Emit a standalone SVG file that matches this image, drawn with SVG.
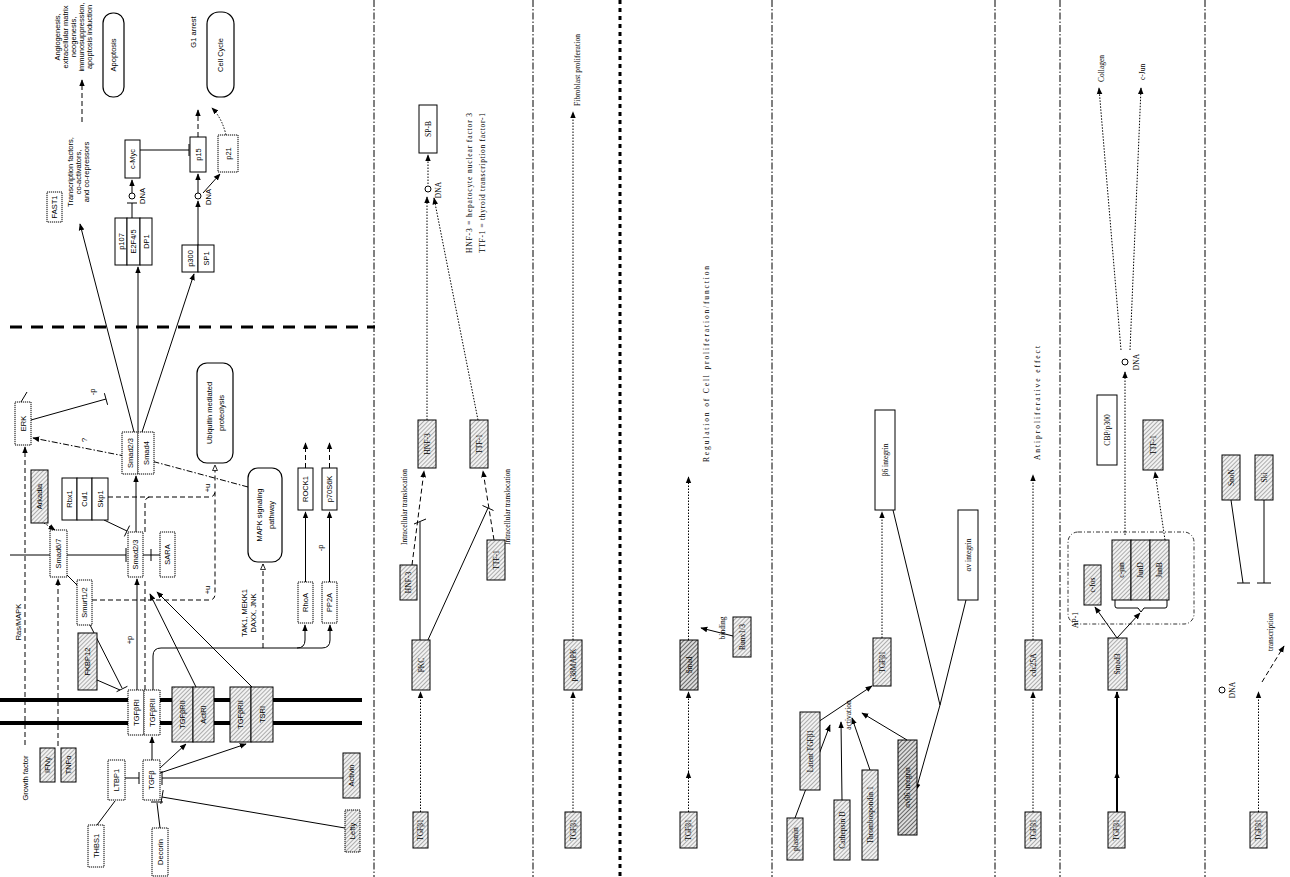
<svg xmlns="http://www.w3.org/2000/svg" width="1290" height="877" viewBox="0 0 1290 877">
<style>
text{font-family:"Liberation Sans",Arial,sans-serif;font-size:7.5px;fill:#000;text-anchor:middle;dominant-baseline:central}
.s{font-family:"Liberation Serif","Times New Roman",serif;font-size:7.5px}
.st{text-anchor:start}
.b{fill:#fff;stroke:#000;stroke-width:1}
.bd{fill:#fff;stroke:#000;stroke-width:1;stroke-dasharray:1.2 0.8}
.g{fill:url(#h);stroke:#000;stroke-width:1}
.gd{fill:url(#hd);stroke:#000;stroke-width:1}
.r{fill:#fff;stroke:#000;stroke-width:1.2}
.l{fill:none;stroke:#000;stroke-width:1}
.lt{fill:none;stroke:#000;stroke-width:2}
.dot{fill:none;stroke:#000;stroke-width:1;stroke-dasharray:1.5 1.5}
.dash{fill:none;stroke:#000;stroke-width:1;stroke-dasharray:5 3}
.dd{fill:none;stroke:#000;stroke-width:1;stroke-dasharray:6 2 1.5 2}
.sep{fill:none;stroke:#000;stroke-width:1;stroke-dasharray:7 2 1.5 2}
.mem{stroke:#000;stroke-width:4}
.nuc{stroke:#000;stroke-width:3;stroke-dasharray:12 9}
.ap{fill:none;stroke:#000;stroke-width:0.8;stroke-dasharray:4 2 1 2}
.sm{font-size:7px}
</style>
<defs>
<pattern id="h" width="3" height="3" patternUnits="userSpaceOnUse" patternTransform="rotate(45)"><rect width="3" height="3" fill="#f2f2f2"/><line x1="0.5" y1="0" x2="0.5" y2="3" stroke="#9a9a9a" stroke-width="0.8"/></pattern>
<pattern id="hd" width="3" height="3" patternUnits="userSpaceOnUse" patternTransform="rotate(45)"><rect width="3" height="3" fill="#dcdcdc"/><line x1="0.5" y1="0" x2="0.5" y2="3" stroke="#666" stroke-width="1"/></pattern>
<marker id="a" viewBox="0 0 10 10" refX="9" refY="5" markerWidth="7" markerHeight="7" markerUnits="userSpaceOnUse" orient="auto"><path d="M0,1 L10,5 L0,9 z" fill="#000"/></marker>
<marker id="o" viewBox="0 0 10 10" refX="9" refY="5" markerWidth="7" markerHeight="7" markerUnits="userSpaceOnUse" orient="auto"><path d="M1,1.5 L9,5 L1,8.5 z" fill="#fff" stroke="#000" stroke-width="1.2"/></marker>
</defs>
<rect width="1290" height="877" fill="#fff"/>

<g id="separators">
<line class="sep" x1="374" y1="0" x2="374" y2="877"/>
<line class="sep" x1="533" y1="0" x2="533" y2="877"/>
<line x1="620" y1="0" x2="620" y2="877" stroke="#000" stroke-width="3" stroke-dasharray="4 4"/>
<line class="sep" x1="772" y1="0" x2="772" y2="877"/>
<line class="sep" x1="995" y1="0" x2="995" y2="877"/>
<line class="sep" x1="1060" y1="0" x2="1060" y2="877"/>
<line class="sep" x1="1205" y1="0" x2="1205" y2="877"/>
</g>

<g id="membranes">
<line class="mem" x1="0" y1="700" x2="362" y2="700"/>
<line class="mem" x1="0" y1="723" x2="362" y2="723"/>
<line class="nuc" x1="10" y1="327" x2="375" y2="327"/>
</g>

<g id="connectors">
<path class="dash" d="M82,122 V80" marker-end="url(#a)"/>
<path class="l" d="M134,432 L80,224" marker-end="url(#a)"/>
<path class="l" d="M138,432 V267" marker-end="url(#a)"/>
<path class="l" d="M142,432 L194,274" marker-end="url(#a)"/>
<path class="l" d="M132,218 V203 M127,203 H137"/>
<path class="l" d="M132,193 V180" marker-end="url(#a)"/>
<path class="l" d="M140,150 H189 M189,144 V156"/>
<path class="l" d="M198,245 V201" marker-end="url(#a)"/>
<path class="l" d="M198,193 V174" marker-end="url(#a)"/>
<path class="l" d="M203,193 L220,174" marker-end="url(#a)"/>
<path class="dash" d="M198,137 V110" marker-end="url(#a)"/>
<path class="dot" d="M226,135 Q222,118 212,108" marker-end="url(#a)"/>
<path class="l" d="M31,420 L106,399 M104.4,393.2 L107.6,404.8"/>
<path class="l" d="M21,402 L27,392"/>
<path class="dash" d="M25,745 V447" marker-end="url(#a)"/>
<path class="dash" d="M58,746 V579" marker-end="url(#a)"/>
<path class="dot" d="M44,523 L55,530" marker-end="url(#a)"/>
<path class="l" d="M10,555 H50 M67,555 H126 M126,548 V562"/>
<path class="l" d="M67,575 L77,585"/>
<path class="l" d="M104,520 L127,531 M124.4,536.4 L129.6,525.6"/>
<path class="l" d="M90,625 L122,688 M97,680 L120,690 M116.6,691.7 L127.4,686.3"/>
<path class="l" d="M136,532 V476" marker-end="url(#a)"/>
<path class="l" d="M143,555 H160 M151,549 V561"/>
<path class="l" d="M137,690 V579" marker-end="url(#a)"/>
<path class="dash" d="M145,690 V579"/>
<path class="dash" d="M145,532 V503 Q145,497 151,497"/>
<path class="dash" d="M108,497 H209 Q215,497 215,491"/>
<path class="dash" d="M92,600 H209 Q215,600 215,594 V465" marker-end="url(#o)"/>
<path class="dd" d="M248,487 L155,462 L33,438" marker-end="url(#a)"/>
<path class="l" d="M153,690 V656 Q153,648 161,648 H322 Q330,648 330,640 V625" marker-end="url(#a)"/>
<path class="l" d="M297,648 Q305,648 305,640 V625" marker-end="url(#a)"/>
<path class="dash" d="M263,648 V564" marker-end="url(#o)"/>
<path class="l" d="M305.5,582 V512" marker-end="url(#a)"/>
<path class="l" d="M329.5,582 V512" marker-end="url(#a)"/>
<path class="dash" d="M305.5,468 V443" marker-end="url(#a)"/>
<path class="dash" d="M329.5,468 V443" marker-end="url(#a)"/>
<path class="l" d="M160,768 L186,744" marker-end="url(#a)"/>
<path class="l" d="M160,773 L246,744" marker-end="url(#a)"/>
<path class="l" d="M196,687 L150,594" marker-end="url(#a)"/>
<path class="l" d="M252,687 L157,592" marker-end="url(#a)"/>
<path class="l" d="M152,760 V737" marker-end="url(#a)"/>
<path class="l" d="M125,778 H139 M139,772 V784"/>
<path class="l" d="M97,825 L115,801"/>
<path class="l" d="M160,828 L157,803 M151,802 H163"/>
<path class="l" d="M343,778 H162 M162,771 V785"/>
<path class="l" d="M345,828 L162,797 M163.2,790.1 L160.8,803.9"/>
<path class="dot" d="M420.5,812 V692" marker-end="url(#a)"/>
<path class="dash" d="M412,565 L424,471" marker-end="url(#a)"/>
<path class="dash" d="M494,540 L483,471" marker-end="url(#a)"/>
<path class="l" d="M420,640 V522 M414,524 L426,519"/>
<path class="l" d="M427,642 L488,508 M482.5,505.5 L493.5,510.5"/>
<path class="dot" d="M427,420 V197" marker-end="url(#a)"/>
<path class="dot" d="M478,420 L434,198" marker-end="url(#a)"/>
<path class="dot" d="M428,184 V155" marker-end="url(#a)"/>
<path class="dot" d="M573,812 V692" marker-end="url(#a)"/>
<path class="dot" d="M573,640 V112" marker-end="url(#a)"/>
<path class="dot" d="M688.5,812 V772" marker-end="url(#a)" stroke-width="1.6"/>
<path class="dot" d="M688.5,772 V692" marker-end="url(#a)" stroke-width="1.6"/>
<path class="l" d="M741,638 L701,628" marker-end="url(#a)"/>
<path class="dot" d="M688.5,640 V477" marker-end="url(#a)"/>
<path class="l" d="M818,722 L872,686" marker-end="url(#a)"/>
<path class="l" d="M795,818 L830,725" marker-end="url(#a)"/>
<path class="l" d="M842,800 L841,722" marker-end="url(#a)"/>
<path class="l" d="M870,770 L852,718" marker-end="url(#a)"/>
<path class="l" d="M907,740 L862,713" marker-end="url(#a)"/>
<path class="dot" d="M882,638 V512" marker-end="url(#a)"/>
<path class="l" d="M893,510 L940,705 M966,600 L940,705"/>
<path class="l" d="M940,705 L916,790" marker-end="url(#a)"/>
<path class="dot" d="M1033,812 V692" marker-end="url(#a)"/>
<path class="dot" d="M1033,640 V475" marker-end="url(#a)"/>
<path class="lt" d="M1117,812 V772" marker-end="url(#a)"/>
<path class="lt" d="M1117,772 V692" marker-end="url(#a)"/>
<path class="l" d="M1117,638 L1095,607" marker-end="url(#a)"/>
<path class="l" d="M1117,638 L1140,613" marker-end="url(#a)"/>
<path class="l" d="M1115,600 V606 Q1115,608 1117,608 H1138 L1141,612 L1144,608 H1165 Q1167,608 1167,606 V600"/>
<path class="dot" d="M1125,535 V372" marker-end="url(#a)"/>
<path class="dot" d="M1165,540 L1155,472" marker-end="url(#a)"/>
<path class="dot" d="M1121,350 L1099,88" marker-end="url(#a)"/>
<path class="dot" d="M1130,350 L1141,88" marker-end="url(#a)"/>
<path class="dot" d="M1258.5,812 V692" marker-end="url(#a)"/>
<path class="dash" d="M1262,682 L1284,646" marker-end="url(#a)"/>
<path class="l" d="M1231,500 L1243,583 M1237,583 H1250"/>
<path class="l" d="M1264,500 V583 M1257,583 H1271"/>
</g>

<g id="labels">
<text transform="translate(92 392) rotate(-90)">-p</text>
<text transform="translate(84 440) rotate(-90)">?</text>
<text transform="translate(129 640) rotate(-90)">+p</text>
<text transform="translate(207 488) rotate(-90)">+u</text>
<text transform="translate(207 590) rotate(-90)">+u</text>
<text transform="translate(320 548) rotate(-90)">-p</text>
<text class="s" transform="translate(404 507) rotate(-90)" textLength="76" lengthAdjust="spacing">Intracellular translocation</text>
<text class="s" transform="translate(507 507) rotate(-90)" textLength="76" lengthAdjust="spacing">Intracellular translocation</text>
<text class="s" transform="translate(722 628) rotate(-90)">binding</text>
<text class="s" transform="translate(848 715) rotate(-90)">activation</text>
<text class="s" transform="translate(1270 632) rotate(-90)">transcription</text>
<text class="s" transform="translate(1075 620) rotate(-90)">AP-1</text>
</g>

<g id="n-angio" class="sm">
<text transform="translate(57 37) rotate(-90)">Angiogenesis,</text>
<text transform="translate(65 37) rotate(-90)">extracellular matrix</text>
<text transform="translate(73 37) rotate(-90)">neogenesis,</text>
<text transform="translate(81 37) rotate(-90)">immunosuppression,</text>
<text transform="translate(89 37) rotate(-90)">apoptosis induction</text>
</g>
<g id="n-apoptosis"><rect class="r" x="103" y="13" width="21" height="84" rx="10"/><text transform="translate(113.5 55) rotate(-90)">Apoptosis</text></g>
<g id="n-g1"><text transform="translate(193 32) rotate(-90)">G1 arrest</text></g>
<g id="n-cellcycle"><rect class="r" x="207" y="12" width="27" height="85" rx="12"/><text transform="translate(220.5 55) rotate(-90)">Cell Cycle</text></g>
<g id="n-fast1"><rect class="bd" x="47" y="192" width="15" height="30"/><text transform="translate(54.5 207) rotate(-90)">FAST1</text></g>
<g id="n-tf">
<text transform="translate(70 172) rotate(-90)">Transcription factors,</text>
<text transform="translate(78 172) rotate(-90)">co-activators,</text>
<text transform="translate(86 172) rotate(-90)">and co-repressors</text>
</g>
<g id="n-e2f">
<rect class="b" x="115" y="218" width="12" height="47"/><rect class="b" x="127" y="218" width="13" height="47"/><rect class="b" x="140" y="218" width="12" height="47"/>
<text transform="translate(121 241.5) rotate(-90)">p107</text><text transform="translate(133.5 241.5) rotate(-90)">E2F4/5</text><text transform="translate(146 241.5) rotate(-90)">DP1</text>
</g>
<g id="n-dna1"><circle cx="132" cy="196" r="3" fill="#fff" stroke="#000"/><text transform="translate(142 196) rotate(-90)">DNA</text></g>
<g id="n-cmyc"><rect class="b" x="125" y="140" width="15" height="38"/><text transform="translate(132.5 159) rotate(-90)">c-Myc</text></g>
<g id="n-p15"><rect class="b" x="190" y="137" width="16" height="35"/><text transform="translate(198 154.5) rotate(-90)">p15</text></g>
<g id="n-dna2"><circle cx="198" cy="196" r="3" fill="#fff" stroke="#000"/><text transform="translate(208 197) rotate(-90)">DNA</text></g>
<g id="n-p300">
<rect class="b" x="182" y="245" width="16" height="27"/><rect class="b" x="198" y="245" width="16" height="27"/>
<text transform="translate(190 258.5) rotate(-90)">p300</text><text transform="translate(206 258.5) rotate(-90)">SP1</text>
</g>
<g id="n-p21"><rect class="bd" x="218" y="135" width="20" height="37"/><text transform="translate(228 153.5) rotate(-90)">p21</text></g>
<g id="n-erk"><rect class="bd" x="15" y="402" width="16" height="43"/><text transform="translate(23 423.5) rotate(-90)">ERK</text></g>
<g id="n-rasmapk"><text transform="translate(18 622) rotate(-90)">Ras/MAPK</text></g>
<g id="n-growth"><text transform="translate(25 778) rotate(-90)">Growth factor</text></g>
<g id="n-ifng"><rect class="g" x="40" y="748" width="15" height="34"/><text transform="translate(47.5 765) rotate(-90)">IFNγ</text></g>
<g id="n-tnfa"><rect class="g" x="61" y="748" width="15" height="34"/><text transform="translate(68.5 765) rotate(-90)">TNFα</text></g>
<g id="n-smad67"><rect class="bd" x="50" y="530" width="17" height="47"/><text transform="translate(58.5 553.5) rotate(-90)">Smad6/7</text></g>
<g id="n-arkadia"><rect class="g" x="31" y="470" width="17" height="53"/><text transform="translate(39.5 496.5) rotate(-90)">Arkadia</text></g>
<g id="n-skp1">
<rect class="b" x="62" y="478" width="15" height="42"/><rect class="b" x="77" y="478" width="15" height="42"/><rect class="b" x="92" y="478" width="16" height="42"/>
<text transform="translate(69.5 499) rotate(-90)">Rbx1</text><text transform="translate(84.5 499) rotate(-90)">Cul1</text><text transform="translate(100 499) rotate(-90)">Skp1</text>
</g>
<g id="n-smad23"><rect class="bd" x="128" y="532" width="15" height="45"/><text transform="translate(135.5 554.5) rotate(-90)">Smad2/3</text></g>
<g id="n-sara"><rect class="bd" x="160" y="532" width="15" height="45"/><text transform="translate(167.5 554.5) rotate(-90)">SARA</text></g>
<g id="n-smurf"><rect class="bd" x="77" y="580" width="15" height="45"/><text transform="translate(84.5 602.5) rotate(-90)">Smurf1/2</text></g>
<g id="n-fkbp12"><rect class="g" x="78" y="633" width="19" height="57"/><text transform="translate(87.5 661.5) rotate(-90)">FKBP12</text></g>
<g id="n-receptor">
<rect class="bd" x="128" y="690" width="16" height="45"/><rect class="bd" x="144" y="690" width="16" height="45"/>
<text transform="translate(136 712.5) rotate(-90)">TGFβRI</text><text transform="translate(152 712.5) rotate(-90)">TGFβRII</text>
</g>
<g id="n-tgfb"><rect class="bd" x="143" y="760" width="17" height="40"/><text transform="translate(151.5 780) rotate(-90)">TGFβ</text></g>
<g id="n-ltbp1"><rect class="bd" x="108" y="760" width="17" height="40"/><text transform="translate(116.5 780) rotate(-90)">LTBP1</text></g>
<g id="n-thbs1"><rect class="bd" x="88" y="825" width="16" height="42"/><text transform="translate(96 846) rotate(-90)">THBS1</text></g>
<g id="n-decorin"><rect class="bd" x="152" y="828" width="16" height="48"/><text transform="translate(160 852) rotate(-90)">Decorin</text></g>
<g id="n-activin"><rect class="g" x="343" y="753" width="17" height="45"/><text transform="translate(351.5 775.5) rotate(-90)">Activin</text></g>
<g id="n-lefty"><rect class="g" x="345" y="810" width="15" height="42" stroke-dasharray="1.2 0.8"/><text transform="translate(352.5 831) rotate(-90)">Lefty</text></g>
<g id="n-actr">
<rect class="g" x="172" y="687" width="21" height="55"/><rect class="g" x="193" y="687" width="21" height="55"/>
<text transform="translate(182.5 714.5) rotate(-90)">TGFβRII</text><text transform="translate(203.5 714.5) rotate(-90)">ActRI</text>
</g>
<g id="n-tsr">
<rect class="g" x="230" y="687" width="21" height="55"/><rect class="g" x="251" y="687" width="22" height="55"/>
<text transform="translate(240.5 714.5) rotate(-90)">TGFβRII</text><text transform="translate(262 714.5) rotate(-90)">TSRI</text>
</g>
<g id="n-smadcomplex">
<rect class="bd" x="122" y="432" width="16" height="42"/><rect class="bd" x="138" y="432" width="16" height="42"/>
<text transform="translate(130 453) rotate(-90)">Smad2/3</text><text transform="translate(146 453) rotate(-90)">Smad4</text>
</g>
<g id="n-ubiquitin"><rect class="r" x="197" y="363" width="36" height="100" rx="10"/>
<text transform="translate(209 413) rotate(-90)">Ubiquitin mediated</text><text transform="translate(221 413) rotate(-90)">proteolysis</text></g>
<g id="n-mapk"><rect class="r" x="248" y="468" width="34" height="94" rx="10"/>
<text transform="translate(259 515) rotate(-90)">MAPK signaling</text><text transform="translate(271 515) rotate(-90)">pathway</text></g>
<g id="n-tak1"><text transform="translate(244 613) rotate(-90)">TAK1, MEKK1</text><text transform="translate(253 613) rotate(-90)">DAXX, JNK</text></g>
<g id="n-rhoa"><rect class="bd" x="298" y="582" width="15" height="41"/><text transform="translate(305.5 602.5) rotate(-90)">RhoA</text></g>
<g id="n-pp2a"><rect class="bd" x="322" y="582" width="15" height="41"/><text transform="translate(329.5 602.5) rotate(-90)">PP2A</text></g>
<g id="n-rock1"><rect class="b" x="298" y="468" width="15" height="42"/><text transform="translate(305.5 489) rotate(-90)">ROCK1</text></g>
<g id="n-p70s6k"><rect class="b" x="322" y="468" width="15" height="42"/><text transform="translate(329.5 489) rotate(-90)">p70S6K</text></g>

<g id="n-s2-tgfb1"><rect class="g" x="413" y="812" width="15" height="36"/><text class="s" transform="translate(420.5 830) rotate(-90)">TGFβ1</text></g>
<g id="n-pkc"><rect class="g" x="412" y="640" width="18" height="50"/><text class="s" transform="translate(421 665) rotate(-90)">PKC</text></g>
<g id="n-hnf3a"><rect class="g" x="400" y="565" width="17" height="35"/><text class="s" transform="translate(408.5 582.5) rotate(-90)">HNF-3</text></g>
<g id="n-hnf3b"><rect class="g" x="418" y="420" width="18" height="48"/><text class="s" transform="translate(427 444) rotate(-90)">HNF-3</text></g>
<g id="n-ttf1b"><rect class="g" x="470" y="420" width="18" height="48"/><text class="s" transform="translate(479 444) rotate(-90)">TTF-1</text></g>
<g id="n-ttf1a"><rect class="g" x="487" y="540" width="18" height="40"/><text class="s" transform="translate(496 560) rotate(-90)">TTF-1</text></g>
<g id="n-s2-dna"><circle cx="428" cy="189" r="3" fill="#fff" stroke="#000"/><text class="s" transform="translate(438 190) rotate(-90)">DNA</text></g>
<g id="n-spb"><rect class="b" x="419" y="105" width="18" height="48"/><text class="s" transform="translate(428 129) rotate(-90)">SP-B</text></g>
<g id="n-s2-notes">
<text class="s" transform="translate(469 183) rotate(-90)" textLength="140" lengthAdjust="spacing">HNF-3 = hepatocyte nuclear factor 3</text>
<text class="s" transform="translate(482 183) rotate(-90)" textLength="140" lengthAdjust="spacing">TTF-1 = thyroid transcription factor-1</text>
</g>

<g id="n-s3-tgfb1"><rect class="g" x="565" y="812" width="16" height="36"/><text class="s" transform="translate(573 830) rotate(-90)">TGFβ1</text></g>
<g id="n-p38"><rect class="g" x="564" y="640" width="18" height="50"/><text class="s" transform="translate(573 665) rotate(-90)">p38MAPK</text></g>
<g id="n-fibro"><text class="s st" transform="translate(577 106) rotate(-90)" textLength="72" lengthAdjust="spacing">Fibroblast proliferation</text></g>

<g id="n-s4-tgfb1"><rect class="g" x="680" y="812" width="17" height="36"/><text class="s" transform="translate(688.5 830) rotate(-90)">TGFβ1</text></g>
<g id="n-smad"><rect class="gd" x="680" y="640" width="18" height="50"/><text class="s" transform="translate(689 665) rotate(-90)">Smad</text></g>
<g id="n-runx"><rect class="g" x="733" y="617" width="18" height="40"/><text class="s" transform="translate(742 637) rotate(-90)">Runx1/3</text></g>
<g id="n-regulation"><text class="s st" transform="translate(706 462) rotate(-90)" textLength="196" lengthAdjust="spacing">Regulation of Cell proliferation/function</text></g>

<g id="n-latent"><rect class="g" x="800" y="712" width="20" height="78"/><text class="s" transform="translate(810 751) rotate(-90)">Latent TGFβ1</text></g>
<g id="n-plasmin"><rect class="g" x="787" y="818" width="16" height="42"/><text class="s" transform="translate(795 839) rotate(-90)">plasmin</text></g>
<g id="n-cathepsin"><rect class="g" x="834" y="800" width="16" height="60"/><text class="s" transform="translate(842 830) rotate(-90)">Cathepsin D</text></g>
<g id="n-thrombo"><rect class="g" x="862" y="770" width="16" height="90"/><text class="s" transform="translate(870 815) rotate(-90)">Thrombospondin 1</text></g>
<g id="n-avb6"><rect class="gd" x="898" y="740" width="19" height="95"/><text class="s" transform="translate(907.5 787.5) rotate(-90)">αvβ6 integrin</text></g>
<g id="n-s5-tgfb1"><rect class="g" x="873" y="638" width="18" height="48"/><text class="s" transform="translate(882 662) rotate(-90)">TGFβ1</text></g>
<g id="n-b6"><rect class="b" x="875" y="410" width="20" height="100"/><text class="s" transform="translate(885 460) rotate(-90)">β6 integrin</text></g>
<g id="n-av"><rect class="b" x="958" y="510" width="20" height="90"/><text class="s" transform="translate(968 555) rotate(-90)">αv integrin</text></g>

<g id="n-s6-tgfb1"><rect class="g" x="1025" y="812" width="16" height="36"/><text class="s" transform="translate(1033 830) rotate(-90)">TGFβ1</text></g>
<g id="n-cdc25a"><rect class="g" x="1025" y="640" width="17" height="50"/><text class="s" transform="translate(1033.5 665) rotate(-90)">cdc25A</text></g>
<g id="n-antiprolif"><text class="s st" transform="translate(1037 460) rotate(-90)" textLength="114" lengthAdjust="spacing">Antiproliferative effect</text></g>

<g id="n-s7-tgfb1"><rect class="g" x="1108" y="812" width="17" height="36"/><text class="s" transform="translate(1116.5 830) rotate(-90)">TGFβ1</text></g>
<g id="n-smad3"><rect class="g" x="1108" y="638" width="19" height="52"/><text class="s" transform="translate(1117.5 664) rotate(-90)">Smad3</text></g>
<g id="n-ap1"><rect class="ap" x="1068" y="532" width="126" height="92" rx="10"/>
<rect class="g" x="1084" y="565" width="17" height="40"/><text class="s" transform="translate(1092.5 585) rotate(-90)">c-fos</text>
<rect class="g" x="1112" y="540" width="19" height="60"/><rect class="g" x="1131" y="540" width="19" height="60"/><rect class="g" x="1150" y="540" width="19" height="60"/>
<text class="s" transform="translate(1121.5 570) rotate(-90)">c-jun</text><text class="s" transform="translate(1140.5 570) rotate(-90)">JunD</text><text class="s" transform="translate(1159.5 570) rotate(-90)">JunB</text>
</g>
<g id="n-cbp"><rect class="b" x="1097" y="395" width="20" height="70"/><text class="s" transform="translate(1107 430) rotate(-90)">CBP/p300</text></g>
<g id="n-s7-ttf1"><rect class="g" x="1143" y="420" width="20" height="50"/><text class="s" transform="translate(1153 445) rotate(-90)">TTF-1</text></g>
<g id="n-s7-dna"><circle cx="1125" cy="362" r="3" fill="#fff" stroke="#000"/><text class="s" transform="translate(1136 362) rotate(-90)">DNA</text></g>
<g id="n-collagen"><text class="s st" transform="translate(1101 82) rotate(-90)">Collagen</text></g>
<g id="n-cjun"><text class="s st" transform="translate(1142 80) rotate(-90)">c-Jun</text></g>

<g id="n-s8-tgfb1"><rect class="g" x="1250" y="812" width="17" height="36"/><text class="s" transform="translate(1258.5 830) rotate(-90)">TGFβ1</text></g>
<g id="n-s8-dna"><circle cx="1222" cy="690" r="3" fill="#fff" stroke="#000"/><text class="s" transform="translate(1232 690) rotate(-90)">DNA</text></g>
<g id="n-snon"><rect class="g" x="1222" y="455" width="18" height="45"/><text class="s" transform="translate(1231 477.5) rotate(-90)">SnoN</text></g>
<g id="n-ski"><rect class="g" x="1255" y="455" width="18" height="45"/><text class="s" transform="translate(1264 477.5) rotate(-90)">Ski</text></g>
</svg>
